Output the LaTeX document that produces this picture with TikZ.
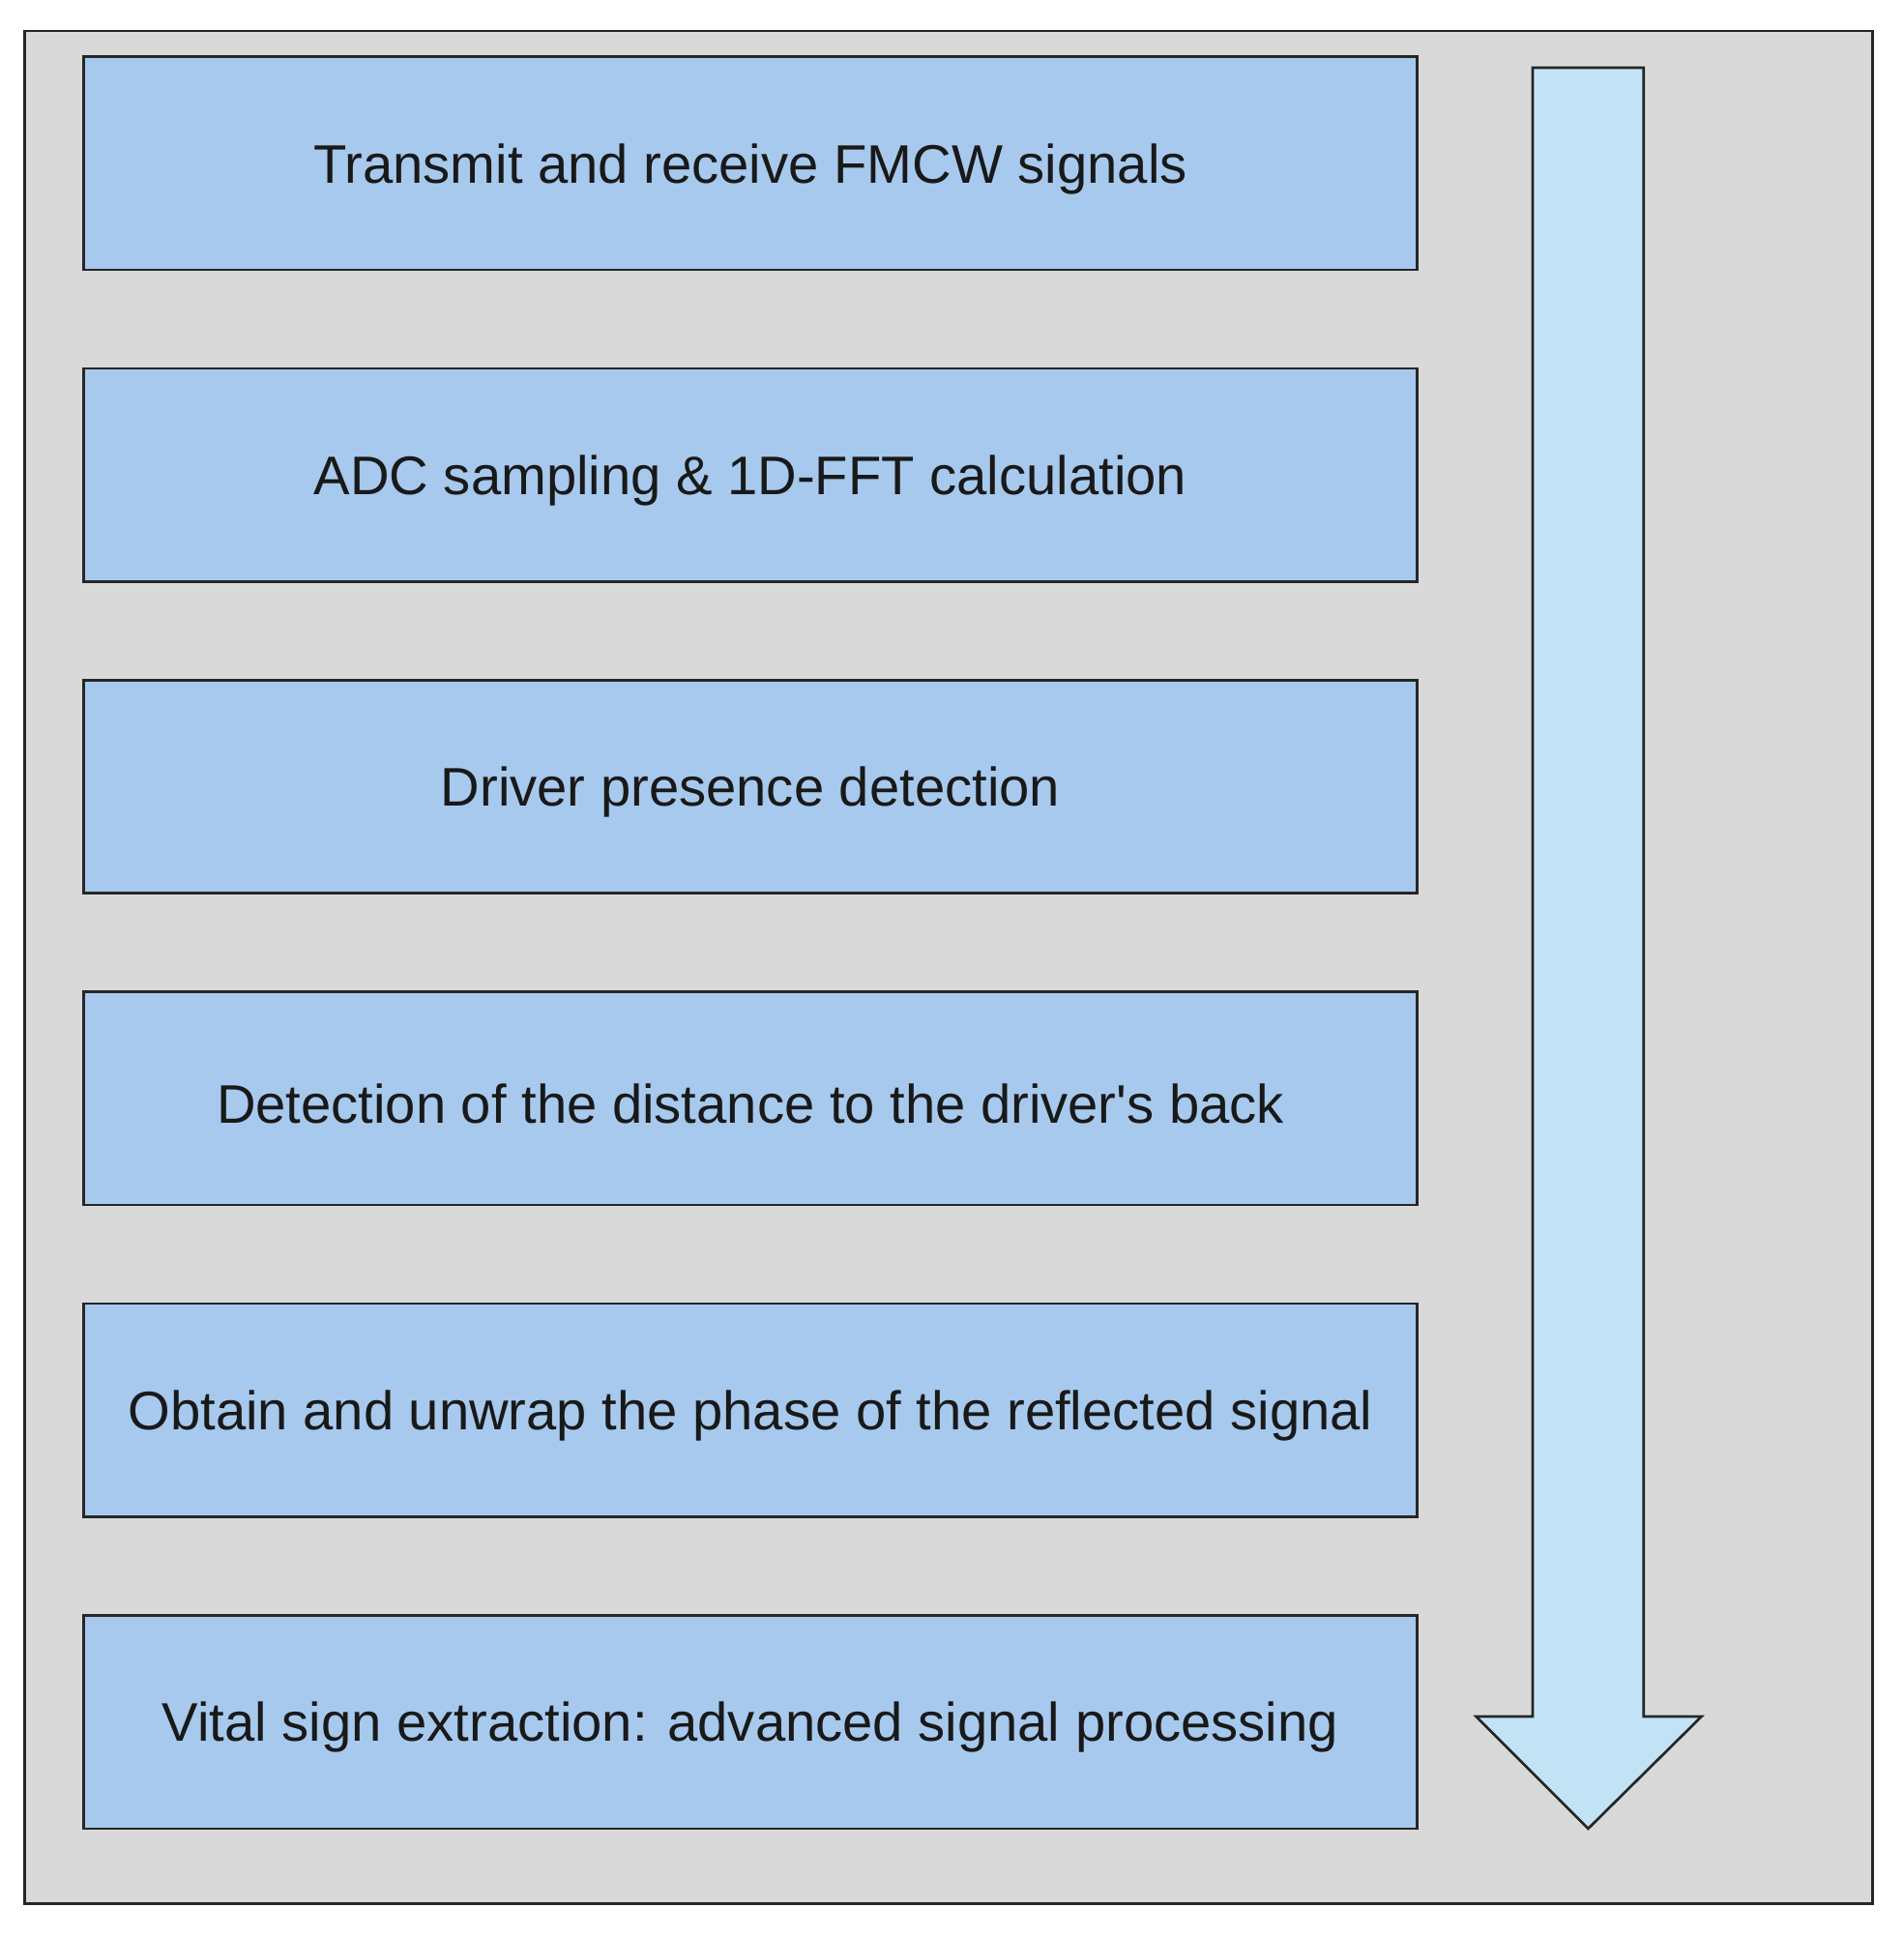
\documentclass[tikz,border=0pt]{standalone}
\usepackage{fontspec}
\setmainfont{Liberation Sans}
\definecolor{bgc}{HTML}{D9D9D9}
\definecolor{boxc}{HTML}{A7C9ED}
\definecolor{arrc}{HTML}{C2E3F5}
\begin{document}
\begin{tikzpicture}[x=0.02cm,y=-0.02cm,
 box/.style={draw=black!85,line width=1.2pt,fill=boxc},
 lbl/.style={font=\fontsize{25.1}{28}\selectfont,text=black!90}]
\useasboundingbox (0,0) rectangle (1545,1572);
\fill[white] (0,0) rectangle (1545,1572);
\draw[fill=bgc,draw=black!85,line width=1.2pt] (20,25) rectangle (1520,1545);
\foreach \i/\t in {0/{Transmit and receive FMCW signals},1/{ADC sampling \& 1D-FFT calculation},2/{Driver presence detection},3/{Detection of the distance to the driver\textquotesingle s back},4/{Obtain and unwrap the phase of the reflected signal},5/{Vital sign extraction: advanced signal processing}}{
 \draw[box] (68,46+253*\i) rectangle (1150,219+253*\i);
 \node[lbl] (b\i) at (609,137+253*\i) {\t};
}
\draw[fill=arrc,draw=black!85,line width=1.2pt] (1244,55) -- (1334,55) -- (1334,1393) -- (1381,1393) -- (1289,1484) -- (1198,1393) -- (1244,1393) -- cycle;
\end{tikzpicture}
\end{document}
